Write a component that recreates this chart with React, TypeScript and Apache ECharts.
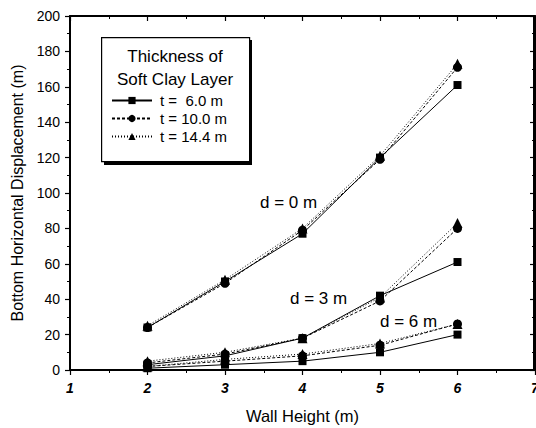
import React, { useEffect, useRef } from "react";
import * as echarts from "echarts";

// Wall height (m) on the x axis
const wallHeight = [2, 3, 4, 5, 6];

// Bottom horizontal displacement (m), grouped by excavation depth d and clay thickness t
const d0_t6 = [24, 50, 77, 120, 161];
const d0_t10 = [24, 49, 79, 119, 171];
const d0_t14 = [25, 51, 80, 121, 173];
const d3_t6 = [3, 8, 18, 42, 61];
const d3_t10 = [4, 9, 18, 39, 80];
const d3_t14 = [5, 10, 18, 41, 83];
const d6_t6 = [1, 3, 5, 10, 20];
const d6_t10 = [2, 5, 8, 14, 26];
const d6_t14 = [2, 6, 9, 15, 26];

const thicknessNames = ["t =  6.0 m", "t = 10.0 m", "t = 14.4 m"];
const depthLabels = ["d = 0 m", "d = 3 m", "d = 6 m"];

const X_MIN = 1;
const X_MAX = 7;
const Y_MIN = 0;
const Y_MAX = 200;

const FONT = "'Liberation Sans', Arial, Helvetica, sans-serif";

type Style = { symbol: string; size: number; line: "solid" | number[] };
const styles: Style[] = [
  { symbol: "rect", size: 8, line: "solid" },
  { symbol: "circle", size: 9, line: [3, 2] },
  { symbol: "triangle", size: 10, line: [1, 2] },
];

const groups = [
  [d0_t6, d0_t10, d0_t14],
  [d3_t6, d3_t10, d3_t14],
  [d6_t6, d6_t10, d6_t14],
];

const tick = (inside: boolean) => ({
  show: true,
  inside,
  length: 5,
  lineStyle: { color: "#000", width: 1.2 },
});
const minor = () => ({
  show: true,
  splitNumber: 2,
  length: 3,
  lineStyle: { color: "#000", width: 1 },
});
const line = () => ({ show: true, onZero: false, lineStyle: { color: "#000", width: 2 } });

const annotations = (): any[] => [
  // legend frame with drop shadow
  { id: "lg-shadow", type: "rect", left: 104, top: 40, shape: { width: 148, height: 125 }, style: { fill: "#000" }, z: 10 },
  { id: "lg-box", type: "rect", left: 101, top: 37, shape: { width: 148, height: 124 }, style: { fill: "#fff", stroke: "#000", lineWidth: 1.2 }, z: 11 },
  { id: "lg-t1", type: "text", x: 175, y: 56, style: { text: "Thickness of", font: `17px ${FONT}`, fill: "#000", textAlign: "center", textVerticalAlign: "middle" }, z: 12 },
  { id: "lg-t2", type: "text", x: 175, y: 79, style: { text: "Soft Clay Layer", font: `17px ${FONT}`, fill: "#000", textAlign: "center", textVerticalAlign: "middle" }, z: 12 },
  // depth annotations
  { id: "d0", type: "text", x: 260, y: 202, style: { text: depthLabels[0], font: `17px ${FONT}`, fill: "#000", textVerticalAlign: "middle" }, z: 12 },
  { id: "d3", type: "text", x: 290, y: 298, style: { text: depthLabels[1], font: `17px ${FONT}`, fill: "#000", textVerticalAlign: "middle" }, z: 12 },
  { id: "d6", type: "text", x: 380, y: 321, style: { text: depthLabels[2], font: `17px ${FONT}`, fill: "#000", textVerticalAlign: "middle" }, z: 12 },
];

export default function App() {
  const ref = useRef<HTMLDivElement>(null);

  useEffect(() => {
    if (!ref.current) return;
    const chart = echarts.init(ref.current, null, { renderer: "svg" });

    const series: any[] = [];
    groups.forEach((grp) => {
      grp.forEach((vals, ti) => {
        const st = styles[ti];
        series.push({
          type: "line",
          name: thicknessNames[ti],
          data: wallHeight.map((x, i) => [x, vals[i]]),
          symbol: st.symbol,
          symbolSize: st.size,
          showAllSymbol: true,
          lineStyle: { color: "#000", width: 1, type: st.line },
          itemStyle: { color: "#000" },
          z: 3 + ti,
        });
      });
    });

    chart.setOption({
      animation: false,
      backgroundColor: "#fff",
      textStyle: { fontFamily: FONT, color: "#000" },
      grid: {
        left: 70,
        right: 1,
        top: 16,
        bottom: 58,
        outerBoundsMode: "none",
        containLabel: false,
      },
      legend: {
        orient: "vertical",
        left: 106,
        top: 88,
        itemWidth: 40,
        itemHeight: 9,
        itemGap: 3,
        data: thicknessNames,
        textStyle: { fontFamily: FONT, fontSize: 15, color: "#000", padding: [0, 0, 0, 3] },
        z: 20,
      },
      xAxis: [
        {
          type: "value",
          min: X_MIN,
          max: X_MAX,
          interval: 1,
          name: "Wall Height (m)",
          nameLocation: "middle",
          nameGap: 37,
          nameTextStyle: { fontSize: 16.5, color: "#000", fontFamily: FONT },
          axisLine: line(),
          axisTick: tick(false),
          minorTick: minor(),
          axisLabel: { fontSize: 14, fontStyle: "italic", fontWeight: "bold", color: "#000", margin: 11, fontFamily: FONT },
          splitLine: { show: false },
        },
        {
          type: "value",
          position: "top",
          min: X_MIN,
          max: X_MAX,
          interval: 1,
          axisLine: line(),
          axisTick: tick(true),
          minorTick: minor(),
          axisLabel: { show: false },
          splitLine: { show: false },
        },
      ],
      yAxis: [
        {
          type: "value",
          min: Y_MIN,
          max: Y_MAX,
          interval: 20,
          name: "Bottom Horizontal Displacement (m)",
          nameLocation: "middle",
          nameGap: 44,
          nameTextStyle: { fontSize: 16, color: "#000", fontFamily: FONT },
          axisLine: line(),
          axisTick: tick(false),
          minorTick: minor(),
          axisLabel: { fontSize: 14, color: "#000", margin: 10, fontFamily: FONT },
          splitLine: { show: false },
        },
        {
          type: "value",
          position: "right",
          min: Y_MIN,
          max: Y_MAX,
          interval: 20,
          axisLine: line(),
          axisTick: tick(true),
          minorTick: minor(),
          axisLabel: { show: false },
          splitLine: { show: false },
        },
      ],
      graphic: annotations(),
      series,
    });

    // plot frame edges, placed from the axes' own scales
    const finder = { xAxisIndex: 0, yAxisIndex: 0 };
    const tl = chart.convertToPixel(finder, [X_MIN, Y_MAX]) as number[];
    const br = chart.convertToPixel(finder, [X_MAX, Y_MIN]) as number[];
    if (tl && br) {
      const [x0, y0] = tl;
      const [x1, y1] = br;
      const edge = (id: string, a: number[], b: number[]) => ({
        id,
        type: "line",
        shape: { x1: a[0], y1: a[1], x2: b[0], y2: b[1] },
        style: { stroke: "#000", lineWidth: 2 },
        silent: true,
        z: 2,
      });
      chart.setOption({
        graphic: [
          ...annotations(),
          edge("fr-top", [x0, y0], [x1, y0]),
          edge("fr-bottom", [x0, y1], [x1, y1]),
          edge("fr-left", [x0, y0], [x0, y1]),
          edge("fr-right", [x1 - 1, y0], [x1 - 1, y1]),
        ],
      });
    }

    return () => chart.dispose();
  }, []);

  return (
    <div
      ref={ref}
      style={{ position: "absolute", left: 0, top: 0, width: 536, height: 428, overflow: "hidden" }}
    />
  );
}
